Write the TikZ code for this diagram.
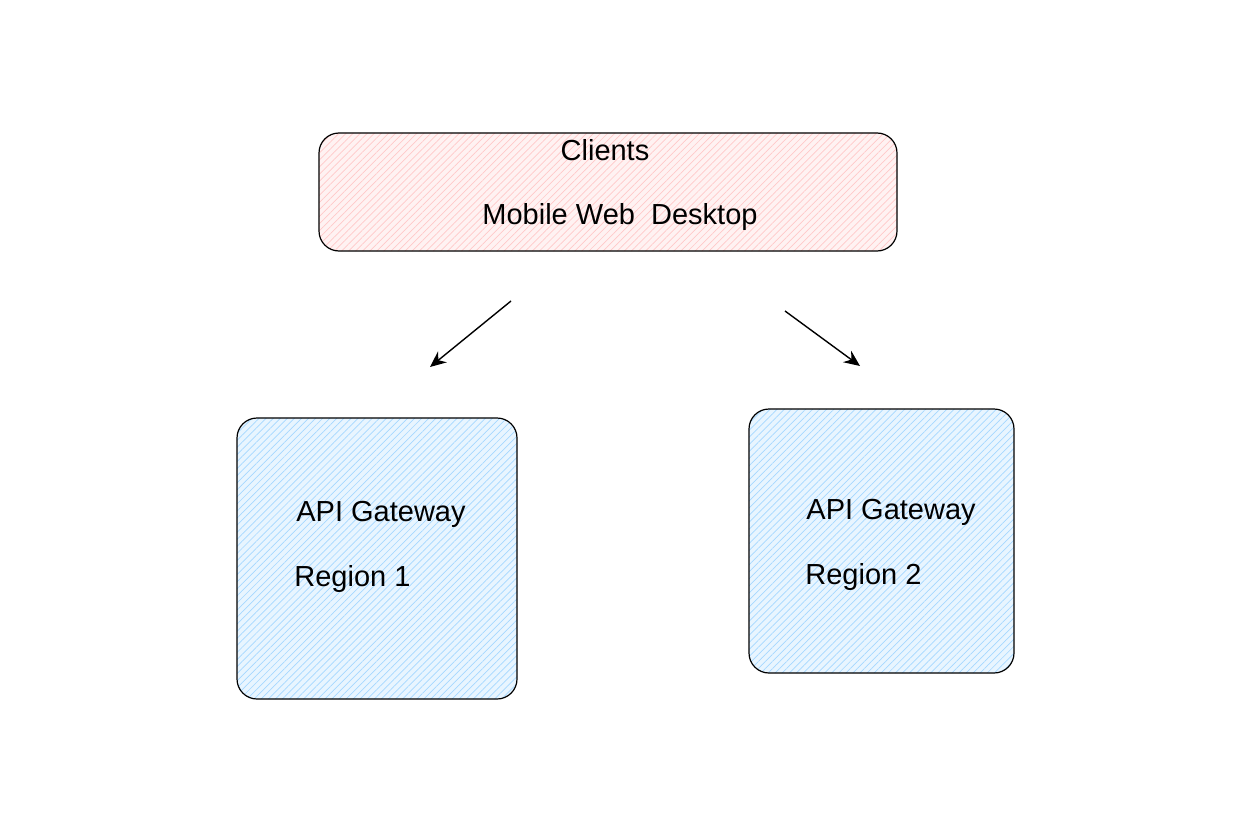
\documentclass[tikz,border=0pt]{standalone}
\usepackage{fontspec}
\setmainfont{Liberation Sans}
\usetikzlibrary{arrows.meta,patterns.meta}
\definecolor{clientpink}{HTML}{FFC9C9}
\definecolor{gatewayblue}{HTML}{A5D8FF}

\begin{document}
\begin{tikzpicture}[x=0.5pt, y=-0.5pt, >={Stealth[length=8pt,width=7pt]},
  every node/.style={font=\fontsize{14.5}{17}\selectfont},
  hatchbox/.style={draw, rounded corners=10pt, line width=0.6pt, inner sep=0pt},
  pinkbox/.style={hatchbox, preaction={fill=clientpink!25},
    pattern={Lines[angle=45,distance=2.5pt,line width=0.35pt]}, pattern color=clientpink},
  bluebox/.style={hatchbox, preaction={fill=gatewayblue!25},
    pattern={Lines[angle=45,distance=2.5pt,line width=0.35pt]}, pattern color=gatewayblue},
  label/.style={inner sep=0pt}]
\useasboundingbox (0,0) rectangle (1236,840);
% boxes
\node[pinkbox, minimum width=289pt, minimum height=59pt] (clients) at (608,192) {};
\node[bluebox, minimum width=140pt, minimum height=140.5pt] (gw1) at (377,558.5) {};
\node[bluebox, minimum width=132.5pt, minimum height=132pt] (gw2) at (881.5,541) {};
% texts
\node[label, anchor=base] (clientstitle) at (605,160) {Clients};
\node[label, anchor=base] (devices) at (620,224) {Mobile Web\ \ Desktop};
\node[label, anchor=base west] (gw1name) at (296,521) {API Gateway};
\node[label, anchor=base west] (gw1region) at (294,586) {Region 1};
\node[label, anchor=base west] (gw2name) at (806,519) {API Gateway};
\node[label, anchor=base west] (gw2region) at (805,584) {Region 2};
% arrows
\coordinate (a1s) at (511,301);
\coordinate (a1e) at (430,367);
\coordinate (a2s) at (785,311);
\coordinate (a2e) at (860,366);
\draw[->, line width=0.7pt] (a1s) -- (a1e);
\draw[->, line width=0.7pt] (a2s) -- (a2e);
\end{tikzpicture}
\end{document}
